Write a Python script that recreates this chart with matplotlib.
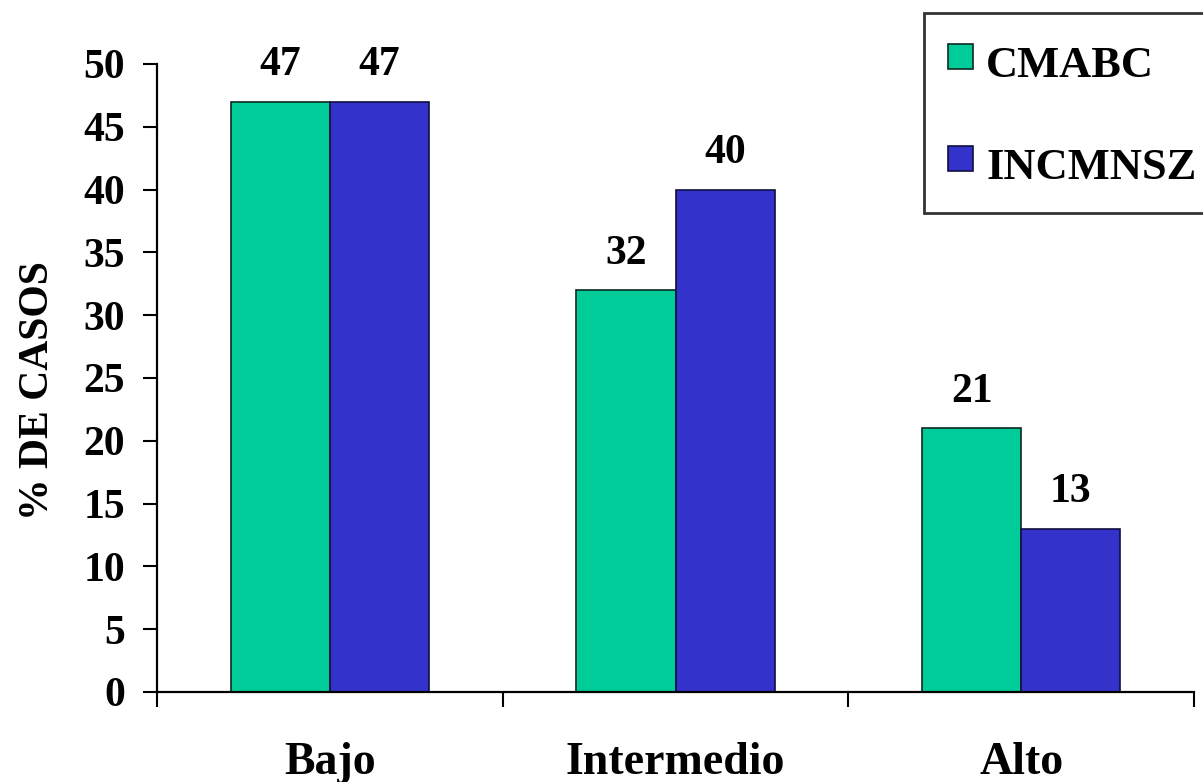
import matplotlib
matplotlib.use("Agg")
import matplotlib.pyplot as plt
from matplotlib.lines import Line2D
import numpy as np

# Risk categories and percentage of cases per institution
categories = ["Bajo", "Intermedio", "Alto"]
series_names = ["CMABC", "INCMNSZ"]
cmabc = [47, 32, 21]
incmnsz = [47, 40, 13]
y_ticks = [0, 5, 10, 15, 20, 25, 30, 35, 40, 45, 50]

plt.rcParams["font.family"] = ["Liberation Serif", "DejaVu Serif"]
plt.rcParams["font.weight"] = "bold"

fig = plt.figure(figsize=(12.03, 7.82), dpi=100)
ax = fig.add_axes([157 / 1203, 1 - 692 / 782, (1194 - 157) / 1203, (692 - 64) / 782])

x = np.arange(len(categories))
w = 0.287
green = "#00CC99"
blue = "#3333CC"

b1 = ax.bar(x - w / 2, cmabc, w, color=green, edgecolor="#0a2a20", linewidth=1.2, label=series_names[0])
b2 = ax.bar(x + w / 2, incmnsz, w, color=blue, edgecolor="#101040", linewidth=1.2, label=series_names[1])

for bars, vals in ((b1, cmabc), (b2, incmnsz)):
    for rect, v in zip(bars, vals):
        ax.annotate(f"{v}", (rect.get_x() + rect.get_width() / 2, v),
                    xytext=(0, 19), textcoords="offset points",
                    ha="center", va="baseline", fontsize=30, fontweight="bold")

ax.set_xlim(-0.5, len(categories) - 0.5)
ax.set_ylim(0, 50)
ax.set_yticks(y_ticks)
ax.set_yticklabels([str(t) for t in y_ticks], fontsize=30, fontweight="bold")

# Boundary ticks between categories, labels centred on each group
ax.set_xticks(np.arange(len(categories) + 1) - 0.5)
ax.set_xticklabels([])
ax.set_xticks(x, minor=True)
ax.set_xticklabels(categories, minor=True, fontsize=33, fontweight="bold")
ax.tick_params(axis="x", which="major", direction="out", length=11, width=1.5, color="black")
ax.tick_params(axis="x", which="minor", length=0, pad=36)
ax.tick_params(axis="y", direction="out", length=10, width=1.5, pad=13)

for s in ("top", "right"):
    ax.spines[s].set_visible(False)
for s in ("left", "bottom"):
    ax.spines[s].set_linewidth(1.6)

ax.set_ylabel("% DE CASOS", fontsize=30, fontweight="bold")
ax.yaxis.set_label_coords(-0.096, 0.48)

# Square swatches for the legend
handles = [
    Line2D([], [], linestyle="none", marker="s", markersize=18,
           markerfacecolor=green, markeredgecolor="#0a2a20", markeredgewidth=1.2),
    Line2D([], [], linestyle="none", marker="s", markersize=18,
           markerfacecolor=blue, markeredgecolor="#101040", markeredgewidth=1.2),
]
leg = fig.legend(handles=handles, labels=series_names,
                 loc="upper left", bbox_to_anchor=(924 / 1203, 1 - 13 / 782),
                 bbox_transform=fig.transFigure,
                 prop={"family": "Liberation Serif", "weight": "bold", "size": 32},
                 frameon=True, fancybox=False, edgecolor="black",
                 handlelength=0.6, handleheight=1.5, handletextpad=0.3,
                 labelspacing=1.07, borderpad=0.5, borderaxespad=0)
leg.get_frame().set_linewidth(2)

fig.savefig("out.png", dpi=100)
